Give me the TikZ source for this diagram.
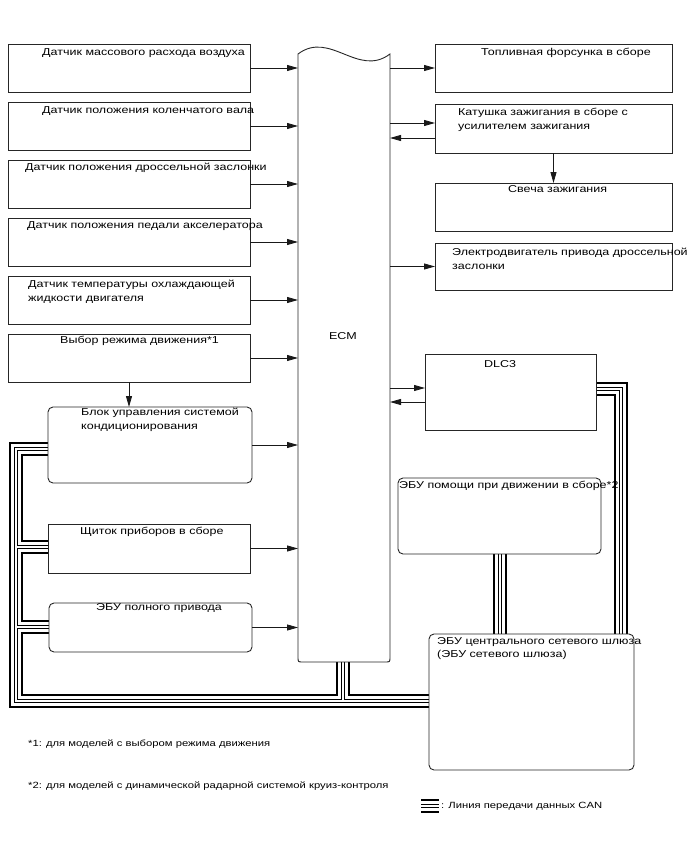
\documentclass[tikz,border=0pt]{standalone}
\usepackage{fontspec}
\setmainfont{Liberation Sans}[FakeStretch=1.25]
\usetikzlibrary{arrows.meta}
\pgfdeclarelayer{bg}
\pgfsetlayers{bg,main}
\begin{document}
\begin{tikzpicture}[x=1pt,y=-1pt,
  box/.style={draw=black!85, line width=0.9pt, rectangle, anchor=north west, inner sep=0pt, outer sep=0pt},
  rbox/.style={box, rounded corners=5pt},
  txt/.style={font=\fontsize{10}{13.8}\selectfont, inner sep=0pt, anchor=north west, align=left},
  ctxt/.style={txt, anchor=north, align=center},
  ntxt/.style={txt, font=\fontsize{9}{11}\selectfont},
  arr/.style={-{Triangle[length=11pt,width=6pt]}, line width=0.8pt, draw=black!90},
]
\useasboundingbox (0,0) rectangle (688,852);

% left column
\node[box, minimum width=242pt, minimum height=48pt] (b1) at (8,44) {};
\node[box, minimum width=242pt, minimum height=48pt] (b2) at (8,102) {};
\node[box, minimum width=242pt, minimum height=48pt] (b3) at (8,160) {};
\node[box, minimum width=242pt, minimum height=48pt] (b4) at (8,218) {};
\node[box, minimum width=242pt, minimum height=48pt] (b5) at (8,276) {};
\node[box, minimum width=242pt, minimum height=48pt] (b6) at (8,334) {};
\node[rbox, minimum width=204pt, minimum height=76pt] (clim) at (48,407) {};
\node[box, minimum width=202pt, minimum height=49pt] (clus) at (48,524) {};
\node[rbox, minimum width=203pt, minimum height=49pt] (awd) at (49,603) {};

\node[txt] (t1) at (42,48) {Датчик массового расхода воздуха};
\node[txt] (t2) at (42,106) {Датчик положения коленчатого вала};
\node[txt] (t3) at (25,163) {Датчик положения дроссельной заслонки};
\node[txt] (t4) at (27,221) {Датчик положения педали акселератора};
\node[txt] (t5) at (28,280) {Датчик температуры охлаждающей\\жидкости двигателя};
\node[txt] (t6) at (60,336) {Выбор режима движения*1};
\node[txt] (t7) at (81,408) {Блок управления системой\\кондиционирования};
\node[txt] (t8) at (80,527) {Щиток приборов в сборе};
\node[txt] (t9) at (96,603) {ЭБУ полного привода};

% ECM
\node[draw=none, anchor=north west, minimum width=92pt, minimum height=608pt, inner sep=0pt, outer sep=0pt] (ecm) at (298,54) {};
\draw[line width=0.9pt, draw=black!85] (ecm.north west) .. controls +(32,-24) and +(-32,24) .. (ecm.north east)
  -- ([yshift=5pt]ecm.south east) .. controls (ecm.south east) .. ([xshift=-5pt]ecm.south east)
  -- ([xshift=5pt]ecm.south west) .. controls (ecm.south west) .. ([yshift=5pt]ecm.south west) -- cycle;
\node[font=\fontsize{10}{12}\selectfont] (ecmt) at (343,336) {ECM};

% right column
\node[box, minimum width=237pt, minimum height=48pt] (fuel) at (435,44) {};
\node[box, minimum width=237pt, minimum height=49pt] (coil) at (435,104) {};
\node[box, minimum width=237pt, minimum height=48pt] (spark) at (435,183) {};
\node[box, minimum width=237pt, minimum height=47pt] (tmot) at (435,243) {};
\node[box, minimum width=171pt, minimum height=76pt] (dlc) at (425,354) {};
\node[rbox, minimum width=203pt, minimum height=76pt] (da) at (398,478) {};
\node[rbox, minimum width=205pt, minimum height=136pt] (gw) at (429,634) {};

\node[txt] (r1) at (481,48) {Топливная форсунка в сборе};
\node[txt] (r2) at (458,108) {Катушка зажигания в сборе с\\усилителем зажигания};
\node[txt] (r3) at (508,185) {Свеча зажигания};
\node[txt] (r4) at (452,248) {Электродвигатель привода дроссельной\\заслонки};
\node[ctxt] (r5) at (500,360) {DLC3};
\node[txt] (r6) at (399,481) {ЭБУ помощи при движении в сборе*2};
\node[txt] (r7) at (437,637) {ЭБУ центрального сетевого шлюза\\(ЭБУ сетевого шлюза)};

% arrows into ECM
\foreach \n in {b1,b2,b3,b4,b5,b6,clim,clus,awd}{
  \draw[arr] (\n.east) -- (\n.east -| ecm.west);
}
\draw[arr] (b6.south) -- (b6.south |- clim.north);
% arrows out of ECM
\draw[arr] (fuel.west -| ecm.east) -- (fuel.west);
\coordinate (c1) at (0,123);
\coordinate (c2) at (0,138);
\draw[arr] (ecm.east |- c1) -- (coil.west |- c1);
\draw[arr] (coil.west |- c2) -- (ecm.east |- c2);
\draw[arr] (coil.south) -- (spark.north);
\draw[arr] (tmot.west -| ecm.east) -- (tmot.west);
\coordinate (d1) at (0,388);
\coordinate (d2) at (0,402);
\draw[arr] (ecm.east |- d1) -- (dlc.west |- d1);
\draw[arr] (dlc.west |- d2) -- (ecm.east |- d2);

% CAN bus
\coordinate (k1) at (16,449);
\coordinate (k2) at (16,701);
\coordinate (k3) at (16,547);
\coordinate (k4) at (16,627);
\coordinate (k5) at (343,701);
\coordinate (k6) at (621,389);
\coordinate (k7) at (500,0);
\coordinate (lgA) at (421,806);
\coordinate (lgB) at (439,806);
\begin{pgfonlayer}{bg}
\foreach \w/\c in {13.6/black, 9.4/white, 4.2/black, 1.4/white}{
  \draw[line width=\w pt, draw=\c, line join=miter]
    (clim.west |- k1) -- (k1) -- (k2) -- (gw.west |- k2)
    (k3) -- (clus.west |- k3)
    (k4) -- (awd.west |- k4)
    (ecm.south -| k5) -- (k5)
    (dlc.east |- k6) -- (k6) -- (gw.north -| k6)
    (da.south -| k7) -- (gw.north -| k7)
    (lgA) -- (lgB);
}
\end{pgfonlayer}

% notes
\node[ntxt] (n1) at (28,740) {*1: для моделей с выбором режима движения};
\node[ntxt] (n2) at (28,782) {*2: для моделей с динамической радарной системой круиз-контроля};
\node[ntxt, anchor=west] (lg) at (441,806) {: Линия передачи данных CAN};
\end{tikzpicture}
\end{document}
